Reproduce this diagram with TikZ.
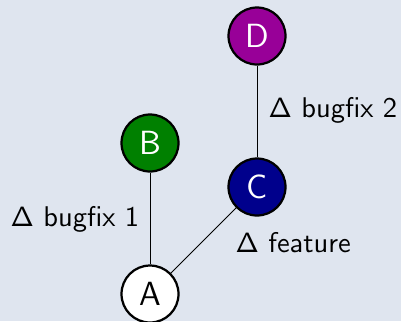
\documentclass[tikz,border=0pt]{standalone}
\usepackage{tikz}
\definecolor{bg}{RGB}{223, 229, 239}
\definecolor{fixgreen}{RGB}{0, 128, 0}
\definecolor{featblue}{RGB}{0, 0, 140}
\definecolor{fixpurple}{RGB}{152, 0, 152}

\begin{document}
\begin{tikzpicture}[x=0.358pt, y=-0.358pt]

\tikzset{commit/.style={circle, draw=black, line width=0.8pt, minimum size=20.4pt, inner sep=0pt, font=\sffamily\fontsize{12}{14}\selectfont},
         delta/.style={right, inner sep=0pt, font=\sffamily\fontsize{10.2}{12}\selectfont}}

\fill[bg] (0, 0) rectangle (401, 321);
\useasboundingbox (0, 0) rectangle (401, 321);

\node[commit, fill=white] (a) at (150, 294) {A};
\node[commit, fill=fixgreen, text=white] (b) at (150, 143) {B};
\node[commit, fill=featblue, text=white] (c) at (257, 187) {C};
\node[commit, fill=fixpurple, text=white] (d) at (257, 36) {D};

\draw[line width=0.35pt] (a) -- (b);
\draw[line width=0.35pt] (a) -- (c);
\draw[line width=0.35pt] (c) -- (d);

\node[delta] (fix1) at (10, 219) {$\mathsf{\Delta}$ bugfix 1};
\node[delta] (fix2) at (268, 110) {$\mathsf{\Delta}$ bugfix 2};
\node[delta] (feat) at (235, 243) {$\mathsf{\Delta}$ feature};

\end{tikzpicture}
\end{document}
